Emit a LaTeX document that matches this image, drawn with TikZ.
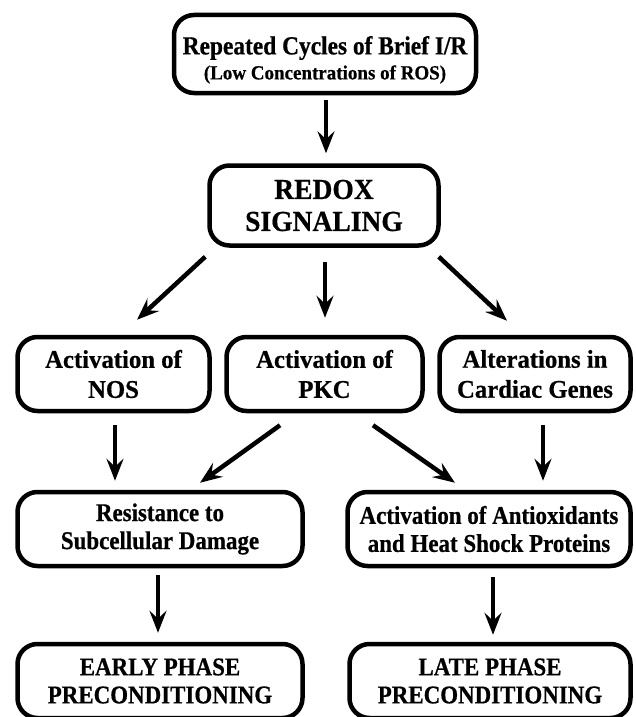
\documentclass[tikz,border=0pt]{standalone}
\usepackage{fontspec}
\usetikzlibrary{calc,arrows.meta}
\newfontfamily\fnarrow{Liberation Serif}[FakeStretch=0.9,FakeBold=0.6]
\newfontfamily\fsub{Liberation Serif}[FakeStretch=0.95,FakeBold=0.6]
\newfontfamily\fwide{Liberation Serif}[FakeStretch=0.97,FakeBold=0.6]
\tikzset{
  box/.style={draw, line width=4.5pt, rounded corners=20pt, align=center, inner sep=0pt},
  arr/.style={line width=4.5pt, -{Stealth[length=22pt,width=17pt,inset=8pt]}},
}
\begin{document}
\begin{tikzpicture}[x=1pt,y=-1pt]
\useasboundingbox (0,0) rectangle (635,717);
\clip (0,0) rectangle (635,717);
\node[box, minimum width=302pt, minimum height=78pt, font=\fontsize{26}{25}\selectfont] (top) at (325,54)
  {\rule{0pt}{30pt}{\fnarrow\bfseries Repeated Cycles of Brief I/R}\\
   {\fsub\bfseries\fontsize{20}{24}\selectfont (Low Concentrations of ROS)}};
\node[box, minimum width=229pt, minimum height=80pt, font=\fsub\bfseries\fontsize{29}{32}\selectfont] (redox) at (324,205.5)
  {REDOX\\SIGNALING};
\node[box, minimum width=192pt, minimum height=74pt, font=\fwide\bfseries\fontsize{25.5}{30}\selectfont] (nos) at (113.5,374)
  {Activation of\\NOS};
\node[box, minimum width=196pt, minimum height=74pt, font=\fwide\bfseries\fontsize{25.5}{30}\selectfont] (pkc) at (324.5,374)
  {Activation of\\PKC};
\node[box, minimum width=191pt, minimum height=74pt, font=\fwide\bfseries\fontsize{25.5}{30}\selectfont] (cardiac) at (535,374)
  {Alterations in\\Cardiac Genes};
\node[box, minimum width=285pt, minimum height=74pt, font=\fnarrow\bfseries\fontsize{25.5}{28}\selectfont] (res) at (160,529)
  {Resistance to\\Subcellular Damage};
\node[box, minimum width=283pt, minimum height=74pt, font=\fnarrow\bfseries\fontsize{25.5}{28}\selectfont] (antiox) at (489,529)
  {Activation of Antioxidants\\and Heat Shock Proteins};
\node[box, minimum width=285pt, minimum height=74pt, font=\fnarrow\bfseries\fontsize{25.5}{28}\selectfont] (early) at (160,681)
  {EARLY PHASE\\PRECONDITIONING};
\node[box, minimum width=281pt, minimum height=74pt, font=\fnarrow\bfseries\fontsize{25.5}{28}\selectfont] (late) at (490,681)
  {LATE PHASE\\PRECONDITIONING};
\draw[arr] ($(top.south)+(1,5)$) -- ($(redox.north)+(2,-10)$);
\draw[arr] ($(redox.south west)+(-2,9)$) -- ($(nos.north)+(23.5,-15)$);
\draw[arr] ($(redox.south)+(1,14)$) -- ($(pkc.north)+(0.5,-17)$);
\draw[arr] ($(redox.south east)+(-2,9)$) -- ($(cardiac.north)+(-28,-14)$);
\draw[arr] ($(nos.south)+(1.5,12)$) -- ($(res.north)+(-45,-9)$);
\draw[arr] ($(pkc.south)+(-44.5,12)$) -- ($(res.north)+(40,-7)$);
\draw[arr] ($(pkc.south)+(48.5,12)$) -- ($(antiox.north)+(-34,-7)$);
\draw[arr] ($(cardiac.south)+(8,12)$) -- ($(antiox.north)+(54,-9)$);
\draw[arr] ($(res.south)+(-2,7)$) -- ($(early.north)+(-2,-9)$);
\draw[arr] ($(antiox.south)+(4,9)$) -- ($(late.north)+(3,-7)$);
\end{tikzpicture}
\end{document}
